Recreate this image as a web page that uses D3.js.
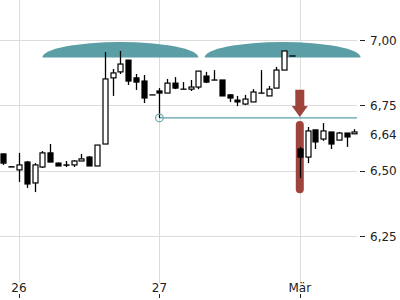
<!DOCTYPE html>
<html><head><meta charset="utf-8">
<script src="https://cdn.jsdelivr.net/npm/d3@7"></script>
<style>body{margin:0;background:#fff}svg{display:block;font-family:"DejaVu Sans",sans-serif}</style>
</head><body><svg id="c" width="400" height="300"></svg>
<script>
const opens  = [6.564,6.515,6.503,6.533,6.453,6.514,6.568,6.529,6.522,6.522,6.537,6.552,6.518,6.602,6.855,6.878,6.923,6.855,6.843,6.790,6.805,6.797,6.835,6.812,6.812,6.820,6.862,6.847,6.847,6.790,6.770,6.755,6.763,6.797,6.786,6.816,6.885,6.939,6.583,6.552,6.656,6.621,6.648,6.617,6.644,6.641];
const highs  = [6.566,6.515,6.568,6.537,6.529,6.575,6.602,6.531,6.537,6.540,6.564,6.556,6.598,6.954,6.889,6.958,6.923,6.870,6.866,6.790,6.816,6.851,6.858,6.839,6.847,6.881,6.878,6.885,6.847,6.793,6.786,6.790,6.812,6.885,6.824,6.897,6.958,6.939,6.591,6.667,6.656,6.682,6.648,6.648,6.644,6.659];
const lows   = [6.522,6.514,6.457,6.434,6.418,6.510,6.533,6.518,6.514,6.514,6.537,6.518,6.518,6.602,6.786,6.870,6.828,6.809,6.759,6.790,6.702,6.797,6.812,6.812,6.805,6.812,6.835,6.847,6.786,6.763,6.747,6.751,6.763,6.797,6.786,6.816,6.885,6.939,6.472,6.529,6.583,6.614,6.583,6.617,6.591,6.641];
const closes = [6.529,6.514,6.522,6.449,6.522,6.568,6.533,6.518,6.521,6.537,6.545,6.518,6.598,6.851,6.874,6.908,6.843,6.839,6.778,6.790,6.797,6.835,6.816,6.812,6.820,6.881,6.839,6.847,6.786,6.778,6.763,6.774,6.801,6.797,6.812,6.885,6.958,6.939,6.552,6.652,6.610,6.652,6.602,6.644,6.629,6.648];
const yTicks = [7.00, 6.75, 6.50, 6.25];
const yTickLabels = ["7,00", "6,75", "6,50", "6,25"];
const lastPrice = 6.64, lastPriceLabel = "6,64";
const xTickIdx = [2, 20, 38];
const xTickLabels = ["26", "27", "Mär"];
const domeCenters = [15, 35.8];
const domeHalfSpan = 10;
const lowLineIdx = 20, lowLineValue = 6.702;
const gapIdx = 38, gapTop = 6.690, gapBottom = 6.414, arrowTop = 6.81;

const svg = d3.select("#c");
const x = d3.scaleLinear().domain([0, 45]).range([3.4, 354.4]);
const y = d3.scaleLinear().domain([6.25, 7.00]).range([236, 40]);

// grid
svg.append("g").selectAll("line").data(yTicks).join("line")
  .attr("x1", 0).attr("x2", 357).attr("y1", d => Math.round(y(d)) + 0.5).attr("y2", d => Math.round(y(d)) + 0.5)
  .attr("stroke", "#dcdcdc");
svg.append("g").selectAll("line").data(xTickIdx).join("line")
  .attr("x1", d => Math.round(x(d)) + 0.5).attr("x2", d => Math.round(x(d)) + 0.5).attr("y1", 0).attr("y2", 283)
  .attr("stroke", "#dcdcdc");

// right axis
const ra = svg.append("g");
ra.selectAll("line").data(yTicks).join("line")
  .attr("x1", 360).attr("x2", 365).attr("y1", d => Math.round(y(d)) + 0.5).attr("y2", d => Math.round(y(d)) + 0.5)
  .attr("stroke", "#222");
ra.selectAll("text").data(yTicks).join("text")
  .attr("x", 370).attr("y", d => y(d) + 4.5).attr("font-size", 12).attr("fill", "#222")
  .text((d, i) => yTickLabels[i]);
ra.append("text").attr("x", 370).attr("y", y(lastPrice) + 4.5).attr("font-size", 12).attr("fill", "#222").text(lastPriceLabel);

// bottom axis
const ba = svg.append("g");
ba.selectAll("line").data(xTickIdx).join("line")
  .attr("x1", d => Math.round(x(d)) + 0.5).attr("x2", d => Math.round(x(d)) + 0.5).attr("y1", 294).attr("y2", 298)
  .attr("stroke", "#222");
ba.selectAll("text").data(xTickIdx).join("text")
  .attr("x", d => x(d)).attr("y", 292).attr("text-anchor", "middle").attr("font-size", 12).attr("fill", "#222")
  .text((d, i) => xTickLabels[i]);

// domes
svg.append("g").selectAll("path").data(domeCenters).join("path")
  .attr("d", d => {
    const cx = x(d), rx = x(d + domeHalfSpan) - x(d), by = 57.5, ry = 15.5;
    return `M${cx - rx},${by} A${rx},${ry} 0 0 1 ${cx + rx},${by} Z`;
  })
  .attr("fill", "#5b9ea5");

// low line with circle
svg.append("line").attr("x1", x(lowLineIdx)).attr("x2", 357).attr("y1", y(lowLineValue)).attr("y2", y(lowLineValue))
  .attr("stroke", "#5b9ea5").attr("stroke-width", 1.2);

// gap bar
svg.append("rect").attr("x", x(gapIdx) - 4).attr("width", 8)
  .attr("y", y(gapTop)).attr("height", y(gapBottom) - y(gapTop)).attr("rx", 4)
  .attr("fill", "#9a3a33").attr("opacity", 0.95);

// arrow
{
  const ax = x(gapIdx), t = y(arrowTop), tip = y(lowLineValue) - 1;
  svg.append("path")
    .attr("d", `M${ax - 4.5},${t} H${ax + 4.5} V${tip - 11} H${ax + 8} L${ax},${tip} L${ax - 8},${tip - 11} H${ax - 4.5} Z`)
    .attr("fill", "#a0433b");
}

// candles
const data = opens.map((o, i) => ({i, o, h: highs[i], l: lows[i], c: closes[i]}));
const cg = svg.append("g");
const bw = 5;
cg.selectAll("line").data(data).join("line")
  .attr("x1", d => Math.round(x(d.i)) + 0.5).attr("x2", d => Math.round(x(d.i)) + 0.5)
  .attr("y1", d => y(d.h)).attr("y2", d => y(d.l)).attr("stroke", "#000").attr("stroke-width", 1.3);
cg.selectAll("rect").data(data).join("rect")
  .attr("x", d => Math.round(x(d.i)) - bw / 2 + 0.5)
  .attr("y", d => y(Math.max(d.o, d.c)))
  .attr("width", bw)
  .attr("height", d => Math.max(0.1, Math.abs(y(d.o) - y(d.c))))
  .attr("fill", d => d.c > d.o ? "#fff" : "#000")
  .attr("stroke", "#000").attr("stroke-width", 1.2);

// circle
svg.append("circle").attr("cx", x(lowLineIdx)).attr("cy", y(lowLineValue)).attr("r", 3.8)
  .attr("fill", "none").attr("stroke", "#6aa9b0").attr("stroke-width", 1.2);
</script></body></html>
